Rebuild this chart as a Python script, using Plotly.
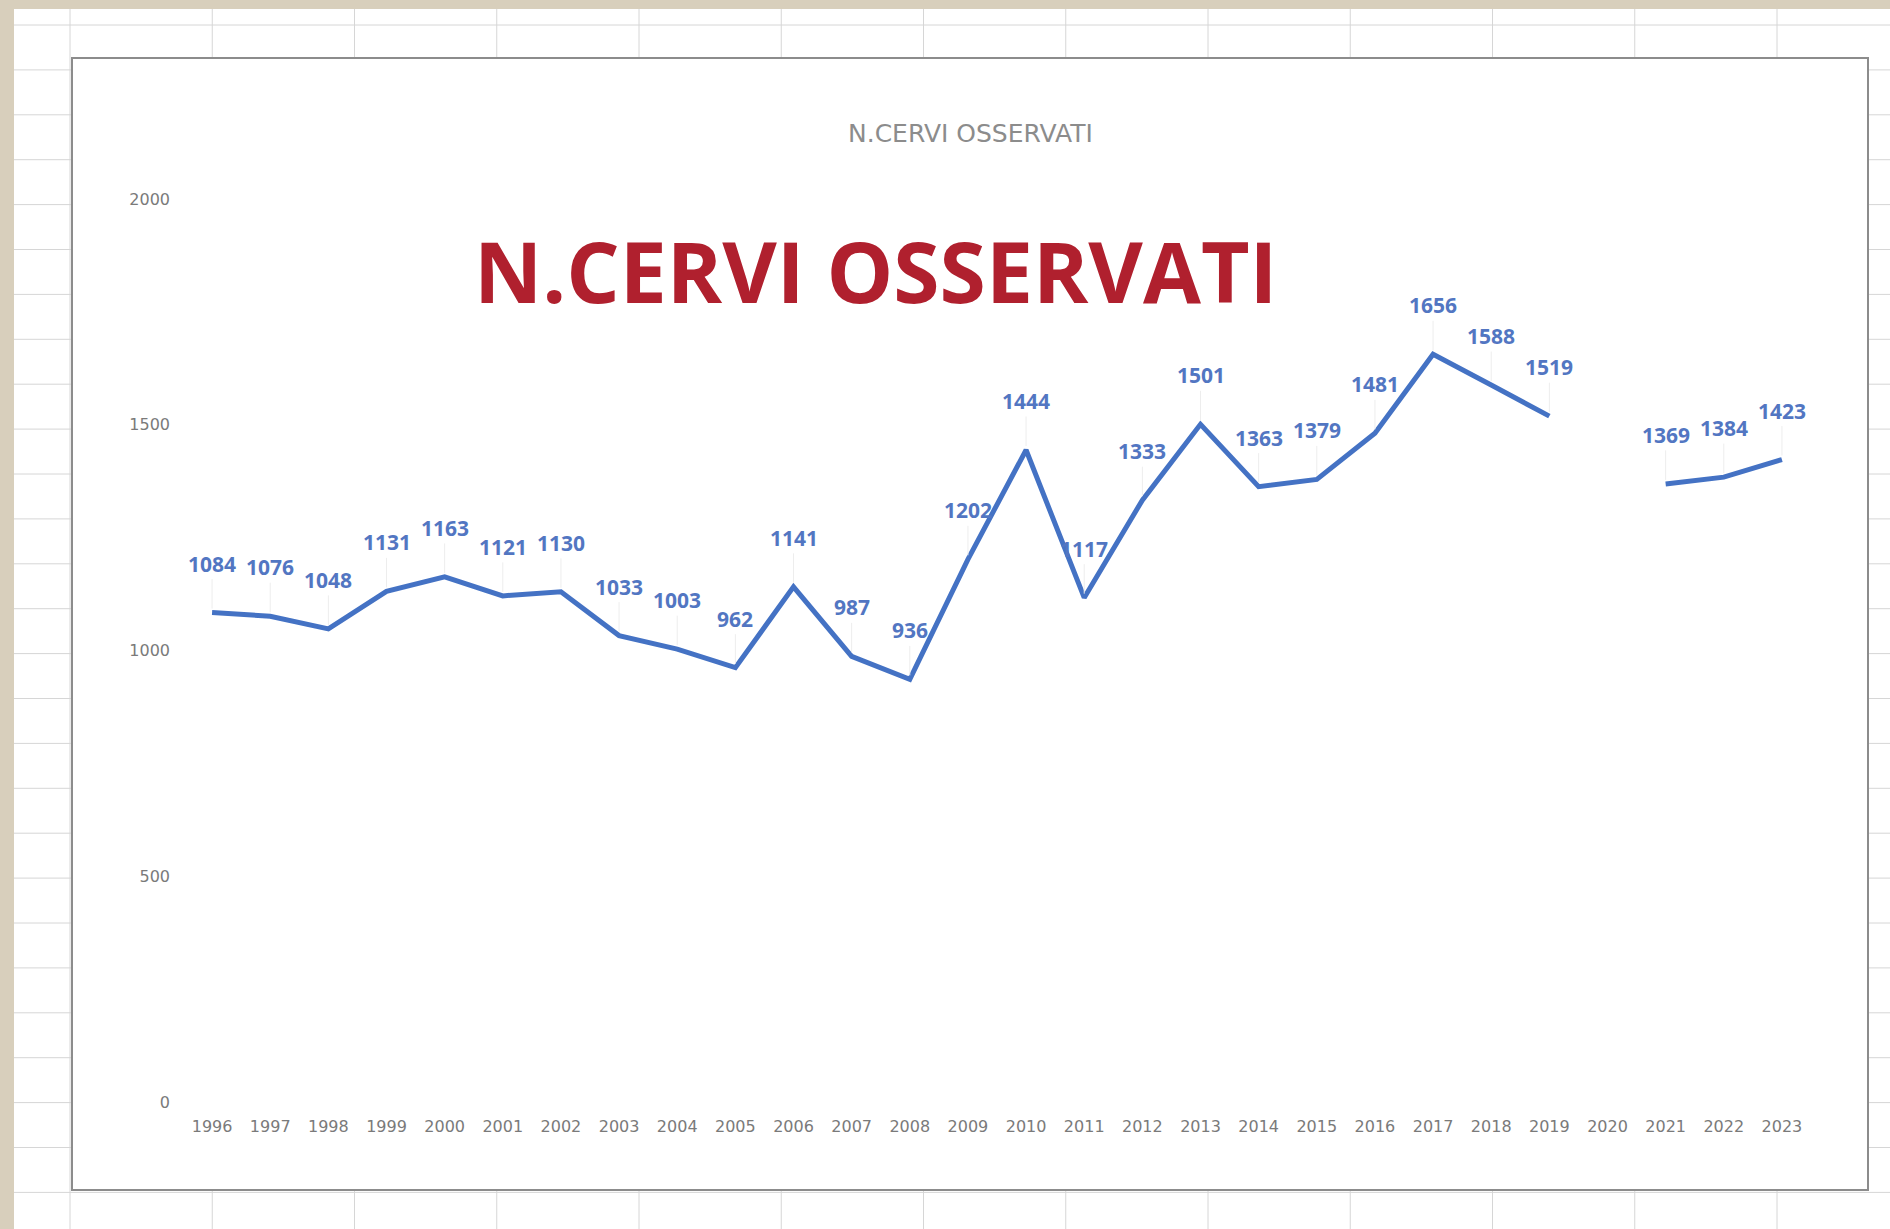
import plotly.graph_objects as go

# data
years = [str(y) for y in range(1996, 2024)]
cervi = [1084, 1076, 1048, 1131, 1163, 1121, 1130, 1033, 1003, 962,
         1141, 987, 936, 1202, 1444, 1117, 1333, 1501, 1363, 1379,
         1481, 1656, 1588, 1519, None, 1369, 1384, 1423]
y_ticks = [0, 500, 1000, 1500, 2000]
chart_title = "N.CERVI OSSERVATI"
overlay_title = "N.CERVI OSSERVATI"

W, H = 1890, 1229


def px_x(p):
    return p / W


def px_y(p):
    return 1 - p / H


shapes = []
# spreadsheet sheet behind the chart
shapes.append(dict(type="rect", xref="paper", yref="paper", layer="below",
                   x0=px_x(14), x1=1, y0=0, y1=px_y(9),
                   fillcolor="white", line=dict(width=0)))
# cell grid
for k in range(14):
    x = px_x(70 + k * 142.25)
    shapes.append(dict(type="line", xref="paper", yref="paper", layer="below",
                       x0=x, x1=x, y0=0, y1=px_y(9),
                       line=dict(color="#d6d6d6", width=1)))
for k in range(28):
    y = px_y(25 + k * 44.9)
    shapes.append(dict(type="line", xref="paper", yref="paper", layer="below",
                       x0=px_x(14), x1=1, y0=y, y1=y,
                       line=dict(color="#d6d6d6", width=1)))
# chart frame
shapes.append(dict(type="rect", xref="paper", yref="paper", layer="below",
                   x0=px_x(72), x1=px_x(1868), y0=px_y(1190), y1=px_y(58),
                   fillcolor="white", line=dict(color="#8c8c8c", width=2)))

fig = go.Figure()
fig.add_trace(go.Scatter(
    x=years,
    y=cervi,
    mode="lines",
    line=dict(color="#4472C4", width=5),
    connectgaps=False,
    hoverinfo="x+y",
))

annotations = []
# data labels with faint leader lines
for i, v in enumerate(cervi):
    if v is None:
        continue
    annotations.append(dict(
        x=i, y=v, xref="x", yref="y",
        text="<b>%d</b>" % v,
        showarrow=True, arrowhead=0, arrowwidth=1, arrowcolor="#ededed",
        ax=0, ay=-49, standoff=4,
        font=dict(family="Open Sans", size=21, color="#5276C2"),
    ))

annotations.append(dict(
    x=px_x(970), y=px_y(134), xref="paper", yref="paper",
    text=chart_title, showarrow=False,
    xanchor="center", yanchor="middle",
    font=dict(family="DejaVu Sans", size=25, color="#8c8c8c"),
))
annotations.append(dict(
    x=px_x(875), y=px_y(270), xref="paper", yref="paper",
    text="<b>%s</b>" % overlay_title, showarrow=False,
    xanchor="center", yanchor="middle",
    font=dict(family="Open Sans", size=84, color="#B0202E"),
))

fig.update_layout(
    width=W, height=H,
    margin=dict(l=0, r=0, t=0, b=0, autoexpand=False),
    paper_bgcolor="#d8cfbc",
    plot_bgcolor="rgba(0,0,0,0)",
    showlegend=False,
    shapes=shapes,
    annotations=annotations,
    xaxis=dict(
        domain=[px_x(183), px_x(1811)],
        type="category",
        range=[-0.5, len(years) - 0.5],
        showgrid=False, zeroline=False, showline=False, ticks="",
        tickfont=dict(family="DejaVu Sans", size=16, color="#7a7a7a"),
        ticklabelstandoff=13,
    ),
    yaxis=dict(
        domain=[px_y(1102), px_y(199)],
        range=[0, 2000],
        tickvals=y_ticks,
        showgrid=False, zeroline=False, showline=False, ticks="",
        tickfont=dict(family="DejaVu Sans", size=16, color="#7a7a7a"),
        ticklabelstandoff=12,
    ),
)

fig.write_html("out.html", config={"displayModeBar": False},
               post_script="document.body.style.margin='0';document.body.style.overflow='hidden';")
